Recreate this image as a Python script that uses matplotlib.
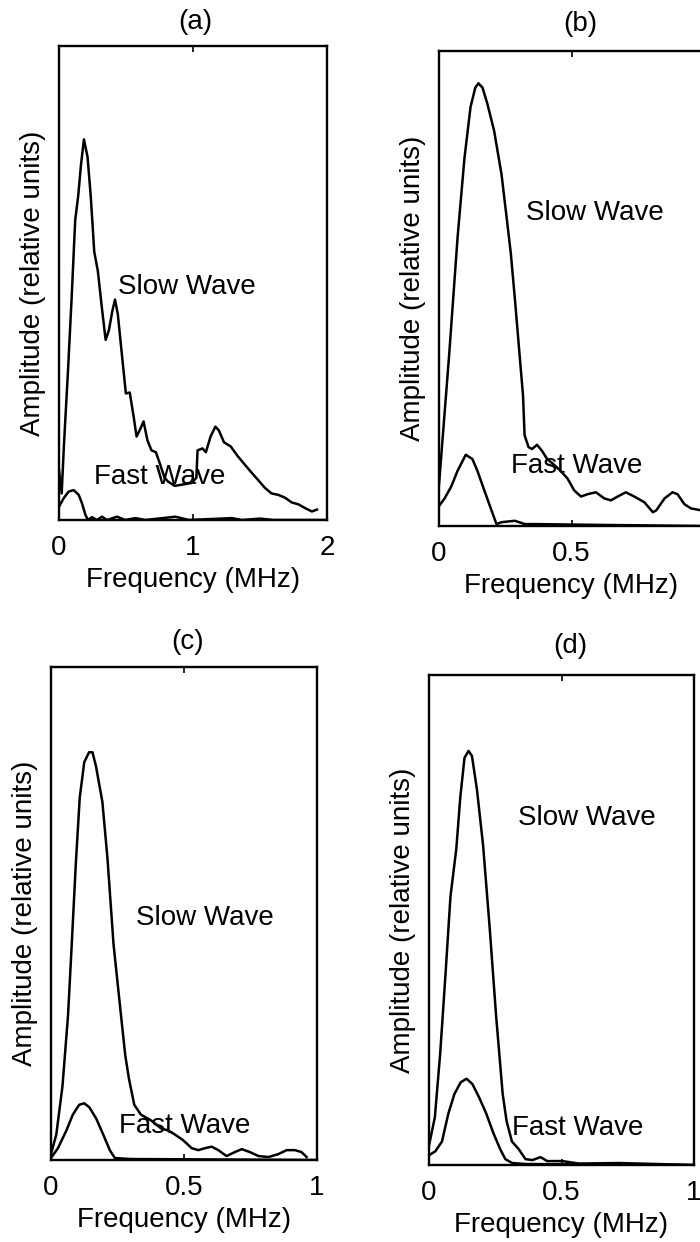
import matplotlib
matplotlib.use("Agg")
import matplotlib.pyplot as plt
import numpy as np

plt.rcParams['font.family'] = ['Liberation Sans', 'DejaVu Sans']
plt.rcParams['font.size'] = 20

# (a) spectra, 0-2 MHz
a_slow_f = [0.0, 0.02, 0.037, 0.066, 0.094, 0.121, 0.143, 0.164, 0.186, 0.213, 0.237, 0.263,
            0.29, 0.319, 0.348, 0.372, 0.399, 0.418, 0.439, 0.469, 0.499, 0.528, 0.557, 0.579,
            0.608, 0.631, 0.66, 0.69, 0.723, 0.749, 0.788, 0.814, 0.864, 0.926, 0.988, 1.025,
            1.034, 1.071, 1.096, 1.131, 1.167, 1.193, 1.231, 1.282, 1.333, 1.383, 1.434, 1.484,
            1.536, 1.586, 1.637, 1.687, 1.737, 1.787, 1.837, 1.887, 1.925]
a_slow_amp = [0.105, 0.056, 0.159, 0.309, 0.467, 0.633, 0.683, 0.749, 0.803, 0.766, 0.683, 0.566,
              0.525, 0.45, 0.38, 0.4, 0.442, 0.465, 0.434, 0.35, 0.267, 0.269, 0.218, 0.176,
              0.193, 0.208, 0.168, 0.147, 0.143, 0.122, 0.089, 0.081, 0.072, 0.075, 0.078, 0.089,
              0.147, 0.151, 0.143, 0.176, 0.197, 0.189, 0.164, 0.155, 0.135, 0.118, 0.101, 0.085,
              0.068, 0.056, 0.053, 0.047, 0.037, 0.033, 0.025, 0.018, 0.022]
a_fast_f = [0.0, 0.035, 0.072, 0.11, 0.147, 0.172, 0.197, 0.216, 0.246, 0.283, 0.321, 0.358,
            0.433, 0.495, 0.57, 0.645, 0.869, 0.969, 1.291, 1.366, 1.5, 1.6, 2.0]
a_fast_amp = [0.028, 0.046, 0.06, 0.063, 0.053, 0.035, 0.011, 0.0, 0.006, 0.0, 0.007, 0.0,
              0.007, 0.0, 0.004, 0.0, 0.007, 0.0, 0.004, 0.0, 0.003, 0.0, 0.0]

# (b) spectra, 0-1 MHz
b_slow_f = [0.0, 0.038, 0.07, 0.096, 0.119, 0.137, 0.149, 0.164, 0.182, 0.208, 0.236, 0.257,
            0.271, 0.287, 0.302, 0.317, 0.323, 0.338, 0.351, 0.37, 0.389, 0.408, 0.434, 0.459,
            0.485, 0.51, 0.536, 0.561, 0.592, 0.624, 0.649, 0.674, 0.705, 0.737, 0.775, 0.807,
            0.82, 0.851, 0.881, 0.9, 0.926, 0.951, 0.989]
b_slow_amp = [0.087, 0.358, 0.607, 0.774, 0.882, 0.923, 0.932, 0.923, 0.89, 0.832, 0.74, 0.641,
              0.574, 0.474, 0.374, 0.275, 0.191, 0.166, 0.162, 0.171, 0.158, 0.141, 0.129, 0.116,
              0.1, 0.075, 0.062, 0.067, 0.071, 0.058, 0.054, 0.062, 0.071, 0.062, 0.05, 0.029,
              0.033, 0.058, 0.071, 0.067, 0.046, 0.037, 0.033]
b_fast_f = [0.0, 0.021, 0.046, 0.07, 0.101, 0.126, 0.145, 0.171, 0.198, 0.217, 0.236, 0.286,
            0.324, 0.374, 0.5, 0.99]
b_fast_amp = [0.042, 0.058, 0.083, 0.116, 0.15, 0.141, 0.116, 0.075, 0.033, 0.004, 0.008, 0.011,
              0.004, 0.004, 0.003, 0.0]

# (c) spectra, 0-1 MHz
c_slow_f = [0.0, 0.02, 0.043, 0.064, 0.078, 0.093, 0.108, 0.125, 0.143, 0.156, 0.169, 0.193,
            0.212, 0.235, 0.257, 0.279, 0.293, 0.313, 0.338, 0.377, 0.414, 0.44, 0.465, 0.497,
            0.529, 0.554, 0.579, 0.604, 0.629, 0.66, 0.691, 0.717, 0.748, 0.78, 0.818, 0.855,
            0.886, 0.917, 0.942, 0.961]
c_slow_amp = [0.012, 0.052, 0.149, 0.293, 0.438, 0.598, 0.735, 0.807, 0.827, 0.827, 0.799, 0.727,
              0.614, 0.438, 0.325, 0.213, 0.165, 0.112, 0.092, 0.08, 0.064, 0.06, 0.052, 0.04,
              0.024, 0.02, 0.024, 0.027, 0.02, 0.008, 0.016, 0.022, 0.016, 0.008, 0.006, 0.012,
              0.02, 0.02, 0.016, 0.006]
c_fast_f = [0.0, 0.026, 0.058, 0.082, 0.106, 0.125, 0.144, 0.17, 0.196, 0.221, 0.24, 0.3, 1.0]
c_fast_amp = [0.004, 0.024, 0.06, 0.092, 0.112, 0.115, 0.107, 0.084, 0.052, 0.02, 0.004, 0.002, 0.0]

# (d) spectra, 0-1 MHz
d_slow_f = [0.0, 0.022, 0.042, 0.062, 0.081, 0.103, 0.118, 0.134, 0.149, 0.162, 0.181, 0.204,
            0.229, 0.253, 0.278, 0.293, 0.313, 0.339, 0.364, 0.39, 0.421, 0.446, 0.503, 0.566,
            0.718, 1.0]
d_slow_amp = [0.04, 0.097, 0.226, 0.387, 0.548, 0.645, 0.75, 0.831, 0.845, 0.835, 0.766, 0.653,
              0.484, 0.306, 0.145, 0.089, 0.048, 0.032, 0.012, 0.01, 0.016, 0.008, 0.008, 0.003,
              0.004, 0.0]
d_fast_f = [0.0, 0.024, 0.049, 0.073, 0.096, 0.12, 0.142, 0.164, 0.19, 0.216, 0.243, 0.269,
            0.288, 0.314, 0.365, 1.0]
d_fast_amp = [0.02, 0.028, 0.048, 0.105, 0.145, 0.169, 0.176, 0.165, 0.137, 0.105, 0.065, 0.032,
              0.012, 0.004, 0.002, 0.0]

panels = [
    # title, rect(px: left, right, top, bottom), xmax, ticks, tick labels, slow, fast, label spots
    ('(a)', (59, 327, 46, 520), 2, [0, 1, 2], ['0', '1', '2'],
     (a_slow_f, a_slow_amp), (a_fast_f, a_fast_amp), (195, 22), (187, 287), (160, 477)),
    ('(b)', (439, 704, 51, 526), 1, [0, 0.5, 1], ['0', '0.5', ''],
     (b_slow_f, b_slow_amp), (b_fast_f, b_fast_amp), (580, 24), (595, 213), (577, 466)),
    ('(c)', (51, 317, 667, 1160), 1, [0, 0.5, 1], ['0', '0.5', '1'],
     (c_slow_f, c_slow_amp), (c_fast_f, c_fast_amp), (188, 642), (205, 918), (185, 1126)),
    ('(d)', (429, 694, 675, 1165), 1, [0, 0.5, 1], ['0', '0.5', '1'],
     (d_slow_f, d_slow_amp), (d_fast_f, d_fast_amp), (570, 646), (587, 818), (578, 1128)),
]

W, H = 700, 1242
fig = plt.figure(figsize=(W / 100, H / 100), dpi=100)

for title, (l, r, t, b), xmax, ticks, tlabels, slow, fast, tpos, spos, fpos in panels:
    ax = fig.add_axes([l / W, 1 - b / H, (r - l) / W, (b - t) / H])
    ax.plot(slow[0], slow[1], color='black', lw=1.8)
    ax.plot(fast[0], fast[1], color='black', lw=1.8)
    ax.set_xlim(0, xmax)
    ax.set_ylim(0, 1)
    ax.set_xticks(ticks)
    ax.set_xticklabels(tlabels)
    ax.set_yticks([])
    ax.tick_params(axis='x', direction='in', top=True, length=4, width=1.2, pad=11,
                   labelsize=20)
    for s in ax.spines.values():
        s.set_linewidth(1.7)
    ax.set_xlabel('Frequency (MHz)', fontsize=20, labelpad=4)
    ax.set_ylabel('Amplitude (relative units)', fontsize=20, labelpad=9)
    fig.text(tpos[0] / W, 1 - tpos[1] / H, title, ha='center', va='center', fontsize=20)
    fig.text(spos[0] / W, 1 - spos[1] / H, 'Slow Wave', ha='center', va='center', fontsize=20)
    fig.text(fpos[0] / W, 1 - fpos[1] / H, 'Fast Wave', ha='center', va='center', fontsize=20)

fig.savefig('out.png', dpi=100)
